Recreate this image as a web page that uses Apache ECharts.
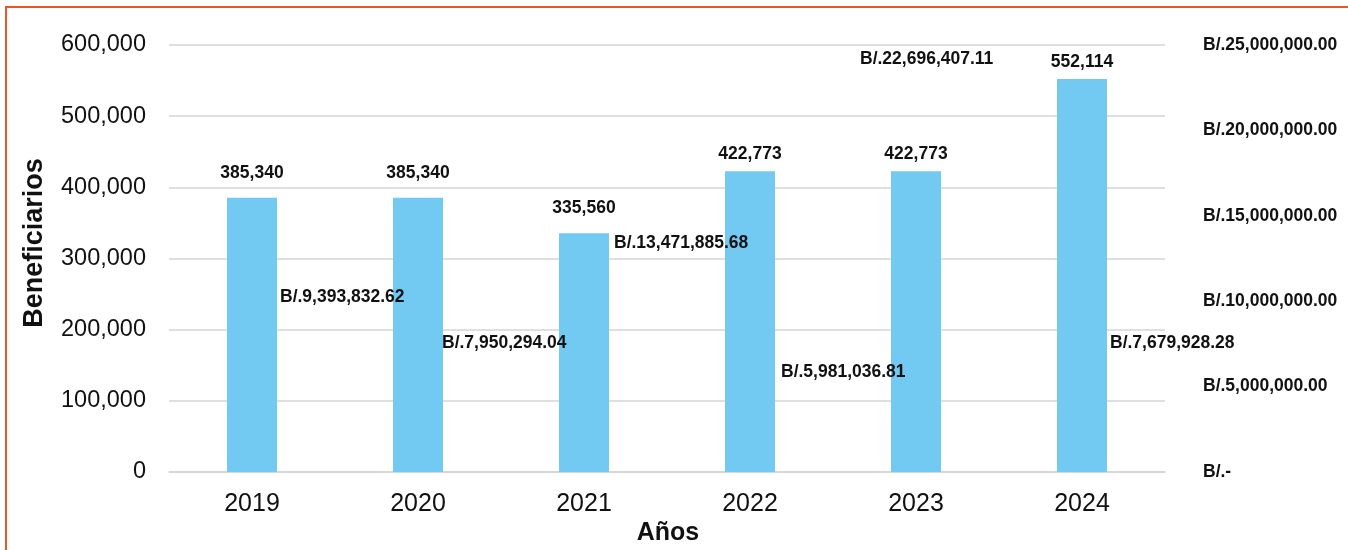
<!DOCTYPE html>
<html>
<head>
<meta charset="utf-8">
<script src="https://cdn.jsdelivr.net/npm/echarts@6/dist/echarts.min.js"></script>
<style>
html, body { margin: 0; padding: 0; background: #fff; }
#chart { width: 1348px; height: 550px; }
.frame {
  position: absolute; left: 5px; top: 6px; width: 1400px; height: 600px;
  border-top: 2px solid #E9552B; border-left: 2px solid #E9552B;
  pointer-events: none;
}
</style>
</head>
<body>
<div id="chart"></div>
<div class="frame"></div>
<script>
// datos
var years = ['2019', '2020', '2021', '2022', '2023', '2024']
var beneficiarios = [385340, 385340, 335560, 422773, 422773, 552114]
var montos = [9393832.62, 7950294.04, 13471885.68, 5981036.81, 22696407.11, 7679928.28]

// ajustes de posicion de etiquetas (como en el original)
var benefLabelOffset = [[0, -10], [0, -10], [0, -10], [0, -2], [0, -2], [0, -2]]
var montoLabelOffset = [[3, -14], [-1, 7], [5, 1], [6, 2], [-81, -25], [3, 2]]

var arial = "Arial, 'Liberation Sans', sans-serif"

function fmtNum(v) {
  return v.toLocaleString('en-US')
}
function fmtMoney(v) {
  if (v === 0) return 'B/.-'
  return 'B/.' + v.toLocaleString('en-US', { minimumFractionDigits: 2, maximumFractionDigits: 2 })
}

var option = {
  animation: false,
  grid: { left: 169, right: 183, top: 45, bottom: 78, outerBoundsMode: 'none' },
  xAxis: {
    type: 'category',
    data: years,
    axisLine: { show: true, lineStyle: { color: '#d4d4d4', width: 1.5 } },
    axisTick: { show: false },
    axisLabel: { color: '#111', fontSize: 25, fontFamily: arial, margin: 20 }
  },
  yAxis: [
    {
      type: 'value',
      min: 0,
      max: 600000,
      interval: 100000,
      axisLine: { show: false },
      axisTick: { show: false },
      splitLine: { lineStyle: { color: '#d4d4d4', width: 1.5 } },
      axisLabel: { color: '#111', fontSize: 23.5, fontFamily: arial, margin: 23, formatter: fmtNum }
    },
    {
      type: 'value',
      min: 0,
      max: 25000000,
      interval: 5000000,
      axisLine: { show: false },
      axisTick: { show: false },
      splitLine: { show: false },
      axisLabel: {
        color: '#111', fontSize: 17.5, fontWeight: 'bold', fontFamily: arial,
        margin: 38, align: 'left', formatter: fmtMoney
      }
    }
  ],
  graphic: [
    {
      type: 'text', x: 35, y: 243, rotation: Math.PI / 2,
      style: { text: 'Beneficiarios', fill: '#111', font: 'bold 27px ' + arial, align: 'center', verticalAlign: 'middle' }
    },
    {
      type: 'text', x: 668, y: 533,
      style: { text: 'Años', fill: '#111', font: 'bold 25px ' + arial, align: 'center', verticalAlign: 'middle' }
    }
  ],
  series: [
    {
      name: 'Beneficiarios',
      type: 'bar',
      barWidth: 50,
      barGap: '-100%',
      itemStyle: { color: '#72C9F2' },
      label: {
        show: true, position: 'top', distance: 6,
        color: '#111', fontSize: 17.5, fontWeight: 'bold', fontFamily: arial,
        formatter: function(p) { return fmtNum(p.value) }
      },
      data: beneficiarios.map(function(v, i) {
        return { value: v, label: { offset: benefLabelOffset[i] } }
      })
    },
    {
      name: 'Monto',
      type: 'bar',
      yAxisIndex: 1,
      barWidth: 50,
      barGap: '-100%',
      itemStyle: { color: 'rgba(0,0,0,0)' },
      label: {
        show: true, position: ['100%', 0], align: 'left', verticalAlign: 'middle',
        color: '#111', fontSize: 17.5, fontWeight: 'bold', fontFamily: arial,
        formatter: function(p) { return fmtMoney(p.value) }
      },
      data: montos.map(function(v, i) {
        return { value: v, label: { offset: montoLabelOffset[i] } }
      })
    }
  ]
}

var chart = echarts.init(document.getElementById('chart'))
chart.setOption(option)
</script>
</body>
</html>
